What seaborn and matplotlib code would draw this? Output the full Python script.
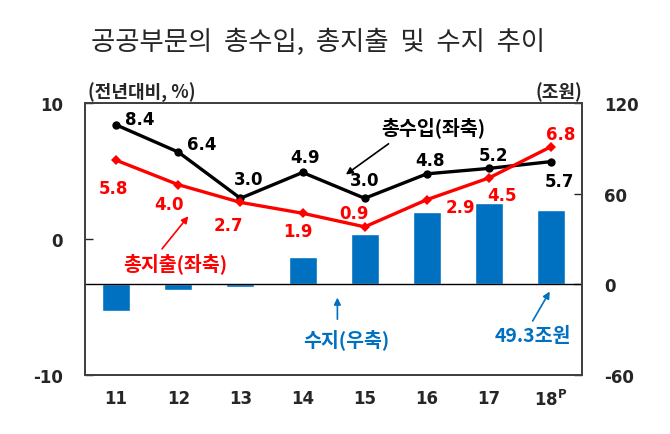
import numpy as np
import matplotlib
matplotlib.use("Agg")
import matplotlib.pyplot as plt
import seaborn as sns

sns.set_style("white")
plt.rcParams["font.family"] = ["DejaVu Sans", "Noto Sans CJK KR"]
plt.rcParams["axes.unicode_minus"] = False

# 데이터
years = ["11", "12", "13", "14", "15", "16", "17", "18$^{\\mathregular{P}}$"]
revenue = [8.4, 6.4, 3.0, 4.9, 3.0, 4.8, 5.2, 5.7]      # 총수입 증가율 (좌축, %)
spending = [5.8, 4.0, 2.7, 1.9, 0.9, 2.9, 4.5, 6.8]     # 총지출 증가율 (좌축, %)
balance = [-17.9, -3.6, -1.8, 18.2, 33.2, 47.6, 54.1, 49.3]  # 수지 (우축, 조원)

# 라벨 위치 (offset points)
rev_off = [(17, 4), (17, 6), (6, 14), (2, 11), (0, 13), (2, 10), (3, 10), (6, -14)]
spd_off = [(-2, -20), (-7, -14), (-9, -16), (-3, -13), (-8, 10), (24, -5), (9, -12), (7, 9)]

BLUE = "#0070C0"
RED = "#FF0000"
KR = ["Noto Sans CJK KR", "DejaVu Sans"]

fig = plt.figure(figsize=(6.7, 4.35), dpi=100)
ax = fig.add_axes([0.127, 0.1356, 0.742, 0.625])
ax2 = ax.twinx()
ax.set_zorder(ax2.get_zorder() + 1)
ax.patch.set_visible(False)

x = np.arange(len(years))

# 수지 막대 (우축)
sns.barplot(x=x, y=balance, color=BLUE, width=0.45, saturation=1, ax=ax2)
ax2.axhline(0, color="black", lw=1.0, zorder=1)

# 총수입 / 총지출 선 (좌축)
sns.lineplot(x=x, y=revenue, color="black", lw=2.4, marker="o", markersize=6,
             markeredgewidth=0, ax=ax)
sns.lineplot(x=x, y=spending, color=RED, lw=2.4, marker="D", markersize=5,
             markeredgewidth=0, ax=ax)

for i, v in enumerate(revenue):
    ax.annotate(f"{v:.1f}", (x[i], v), xytext=rev_off[i], textcoords="offset points",
                ha="center", va="center", fontsize=12, fontweight="bold", color="black")
for i, v in enumerate(spending):
    ax.annotate(f"{v:.1f}", (x[i], v), xytext=spd_off[i], textcoords="offset points",
                ha="center", va="center", fontsize=12, fontweight="bold", color=RED)

# 축 설정
ax.set_xlim(-0.5, len(years) - 0.5)
ax.set_ylim(-10, 10)
ax.set_yticks([-10, 0, 10])
ax2.set_ylim(-60, 120)
ax2.set_yticks([-60, 0, 60, 120])

ax.set_xticks(x)
ax.set_xticklabels(years)
ax.set_xticks(x[:-1] + 0.5, minor=True)
ax.tick_params(axis="x", which="major", length=0, pad=10, labelsize=12)
ax.tick_params(axis="x", which="minor", direction="in", length=5, width=1, color="#333333")
ax.tick_params(axis="y", direction="in", length=6, width=1, pad=16, labelsize=12, left=True)
ax2.tick_params(axis="y", direction="in", length=6, width=1, pad=16, labelsize=12, right=True)
ax2.tick_params(axis="x", length=0)
for a in (ax, ax2):
    for lab in a.get_xticklabels() + a.get_yticklabels():
        lab.set_fontweight("bold")
ax.set_xlabel("")
ax.set_ylabel("")
ax2.set_xlabel("")
ax2.set_ylabel("")

for a in (ax, ax2):
    for s in a.spines.values():
        s.set_color("#404040")
        s.set_linewidth(1.3)

# 주석
ax.annotate("", xy=(3.66, 4.63), xytext=(4.42, 7.13),
            arrowprops=dict(arrowstyle="-|>", color="black", lw=1.2, mutation_scale=10))
ax.text(5.11, 8.24, "총수입(좌축)", ha="center", va="center", fontsize=14,
        fontweight="bold", color="black", family=KR)

ax.annotate("", xy=(1.19, 1.84), xytext=(0.71, -0.88),
            arrowprops=dict(arrowstyle="-|>", color=RED, lw=1.2, mutation_scale=10))
ax.text(0.95, -1.75, "총지출(좌축)", ha="center", va="center", fontsize=14,
        fontweight="bold", color=RED, family=KR)

ax.annotate("", xy=(3.56, -4.1), xytext=(3.56, -6.1),
            arrowprops=dict(arrowstyle="-|>", color=BLUE, lw=1.2, mutation_scale=10))
ax.text(3.71, -7.35, "수지(우축)", ha="center", va="center", fontsize=14,
        fontweight="bold", color=BLUE, family=KR)

ax.annotate("", xy=(7.0, -3.68), xytext=(6.68, -6.2),
            arrowprops=dict(arrowstyle="-|>", color=BLUE, lw=1.2, mutation_scale=10))
ax.text(6.71, -7.13, "49.3조원", ha="center", va="center", fontsize=14,
        fontweight="bold", color=BLUE, family=KR)

# 제목 / 단위
fig.text(0.475, 0.903, "공공부문의  총수입,  총지출  및  수지  추이", ha="center", va="center",
         fontsize=19, family=KR)
fig.text(0.131, 0.787, "(전년대비, %)", ha="left", va="center", fontsize=13,
         fontweight="bold", family=KR)
fig.text(0.869, 0.787, "(조원)", ha="right", va="center", fontsize=13,
         fontweight="bold", family=KR)

fig.savefig("out.png", dpi=100)
